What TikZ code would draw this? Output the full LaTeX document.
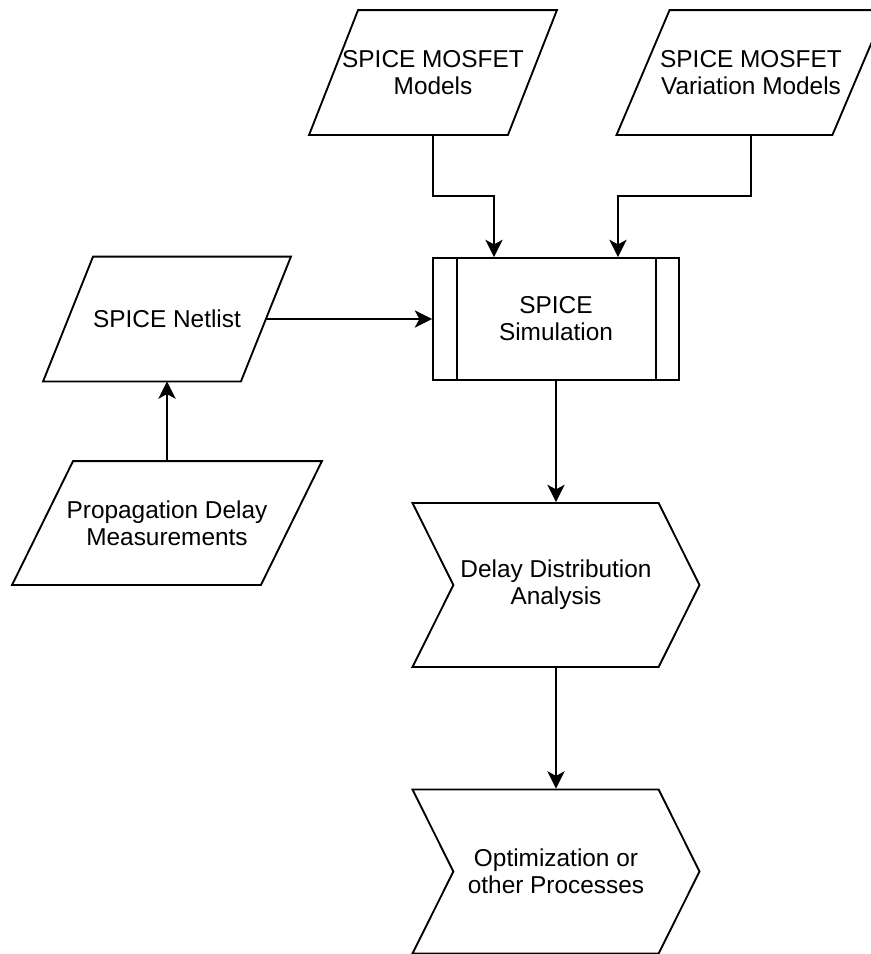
\documentclass[tikz,border=0pt]{standalone}
\usepackage{fontspec}
\setmainfont{Liberation Sans}
\usetikzlibrary{arrows.meta, positioning, calc, shapes.symbols}

\newcommand{\flowfont}{\fontsize{18.3pt}{20.25pt}\selectfont}
\newcommand{\ctr}[1]{\makebox[0pt]{#1}}
% parallelogram round an io node, #2 = half slant in px
\newcommand{\ioframe}[2]{%
  \draw [line width=1.4pt] ($(#1.south west)+(-#2,0)$) -- ($(#1.south east)+(-#2,0)$)
    -- ($(#1.north east)+(#2,0)$) -- ($(#1.north west)+(#2,0)$) -- cycle;}

\begin{document}
\begin{tikzpicture}[
    x=0.75pt, y=-0.75pt,
    every node/.style={font=\flowfont, align=center, draw=black, line width=1.4pt, inner sep=0pt},
    io/.style={rectangle, draw=none, minimum height=92.25pt},
    proc/.style={rectangle, minimum width=184.5pt, minimum height=91.5pt},
    stage/.style={signal, signal from=west, signal to=east, signal pointer angle=127,
      minimum width=215.25pt, minimum height=123pt},
    flow/.style={draw, line width=1.4pt, -{Stealth[length=13pt, width=13pt, inset=3.5pt]}}
  ]
  \useasboundingbox (0,0) rectangle (871,954);

  % inputs
  \node [io, minimum width=147.75pt] (models) at (433,72.5) {\ctr{SPICE MOSFET}\\\ctr{Models}};
  \node [io, minimum width=160.5pt] (variation) at (751,72.5) {\ctr{SPICE MOSFET}\\\ctr{Variation Models}};
  \node [io, minimum width=147pt] (netlist) at (167,319) {SPICE Netlist};
  \node [io, minimum width=185.25pt, minimum height=91.5pt] (delays) at (167,523) {Propagation Delay\\Measurements};
  \ioframe{models}{24.5}
  \ioframe{variation}{26.5}
  \ioframe{netlist}{25}
  \ioframe{delays}{30.5}

  % simulation
  \node [proc] (sim) at (556,319) {SPICE\\Simulation};
  \draw [line width=1.4pt] ([xshift=18.75pt]sim.north west) -- ([xshift=18.75pt]sim.south west);
  \draw [line width=1.4pt] ([xshift=-18pt]sim.north east) -- ([xshift=-18pt]sim.south east);

  % analysis
  \node [stage] (analysis) at (556,585) {\ctr{Delay Distribution}\\\ctr{Analysis}};
  \node [stage] (optim) at (556,871.5) {\ctr{Optimization or}\\\ctr{other Processes}};

  \draw [flow] (models.south) -- ++(0,61) -| ($(sim.north)+(-62,0)$);
  \draw [flow] (variation.south) -- ++(0,61) -| ($(sim.north)+(62,0)$);
  \draw [flow] (netlist.east) -- (sim.west);
  \draw [flow] (delays.north) -- (netlist.south);
  \draw [flow] (sim.south) -- (analysis.north);
  \draw [flow] (analysis.south) -- (optim.north);
\end{tikzpicture}
\end{document}
